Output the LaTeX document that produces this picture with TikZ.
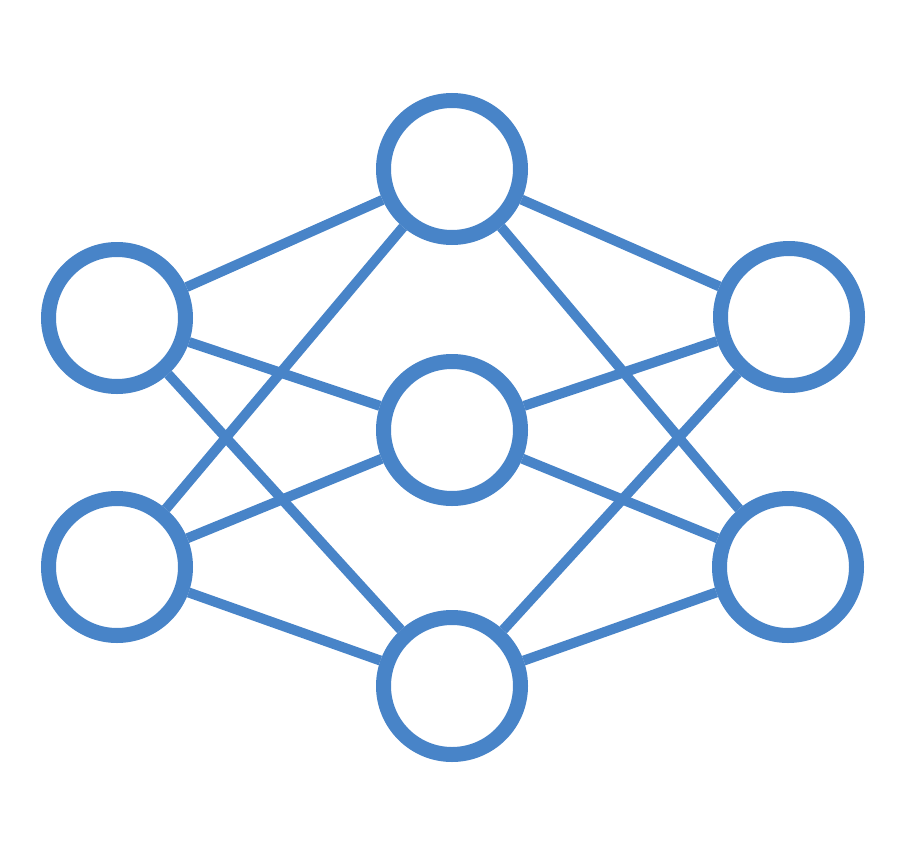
\documentclass[tikz,border=0pt]{standalone}
\definecolor{netblue}{RGB}{72,132,200}
\begin{document}
\begin{tikzpicture}[x=1pt,y=-1pt,
  neuron/.style={circle,draw=netblue,line width=15pt,minimum size=137pt,inner sep=0pt,fill=white},
  link/.style={draw=netblue,line width=10pt}]
\useasboundingbox[fill=white] (0,0) rectangle (916,854);
\node[neuron] (l1) at (117,318) {};
\node[neuron] (l2) at (117,567) {};
\node[neuron] (m1) at (452,169) {};
\node[neuron] (m2) at (452,430) {};
\node[neuron] (m3) at (452,686) {};
\node[neuron] (r1) at (789,317) {};
\node[neuron] (r2) at (788,567) {};
\foreach \a in {l1,l2,r1,r2}{
  \foreach \b in {m1,m2,m3}{
    \path[link] (\a) -- (\b);
  }
}
\end{tikzpicture}
\end{document}
